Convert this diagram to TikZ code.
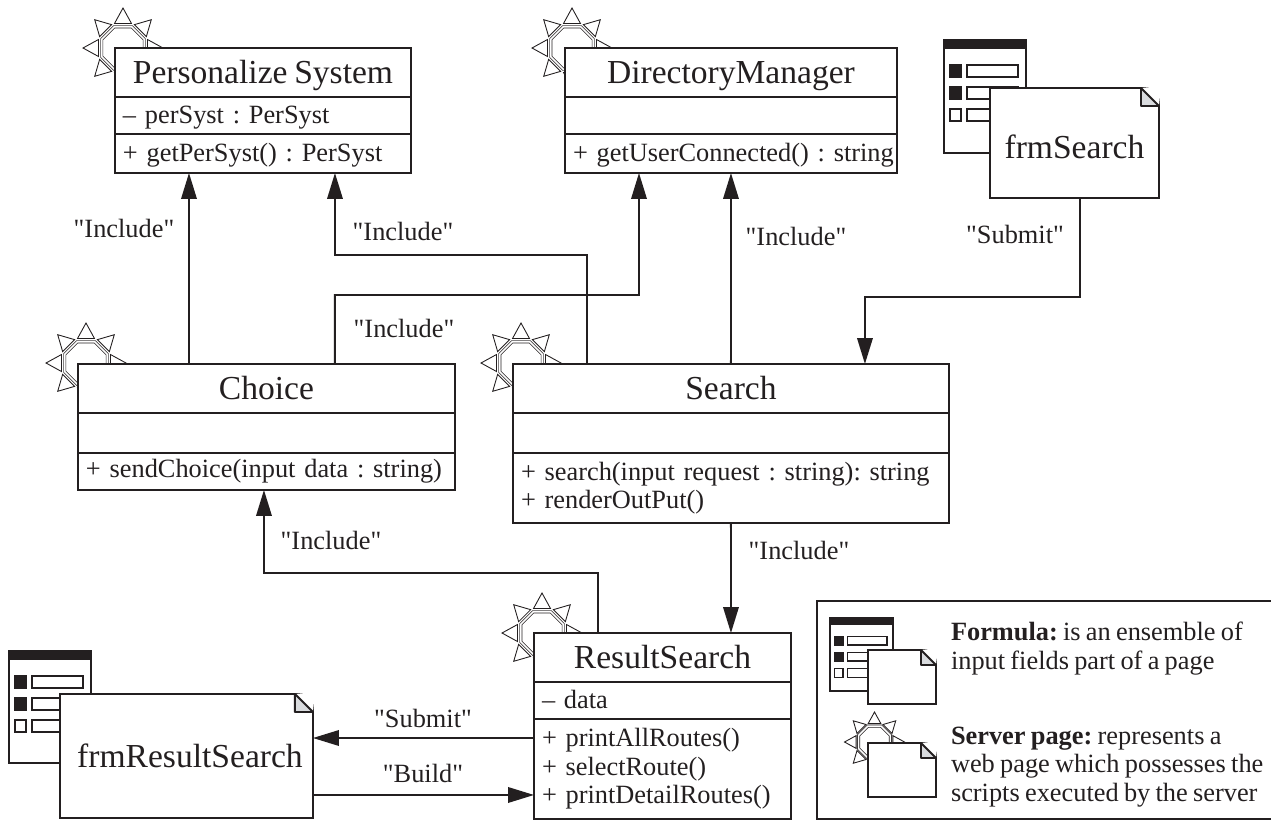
\documentclass[tikz,border=0pt]{standalone}
\usepackage{xcolor}
\usepackage{fontspec}
\setmainfont[Ligatures=TeXOff, WordSpace=0.8]{Liberation Serif}
\usepackage{tikz}
\usetikzlibrary{positioning, arrows.meta}

\definecolor{inkC}{RGB}{35,31,32}
\definecolor{foldC}{RGB}{217,219,222}

\newcommand{\bigtext}{\fontsize{19.1}{22}\selectfont}
\newcommand{\smalltext}{\fontsize{15}{16.2}\selectfont\frenchspacing}

\begin{document}
\begin{tikzpicture}[
    x=0.02cm, y=-0.02cm,
    every node/.style={text=inkC, outer sep=0pt},
    classhead/.style={fill=white, anchor=north west, font=\bigtext, text height=0.45cm, text depth=0pt,
                      minimum width=#1, minimum height=0.98cm, inner sep=0pt},
    classbody/.style={fill=white, font=\smalltext, align=left,
                      text width=#1-0.32cm, inner xsep=0.16cm, inner ysep=0pt},
    oneline/.style={text depth=1pt},
    classline/.style={draw=inkC, line width=1.1pt},
    divider/.style={draw=inkC, line width=0.6pt},
    notebox/.style={draw=inkC, line width=1.1pt, fill=white, anchor=north west, font=\bigtext, inner sep=0pt},
    tag/.style={font=\smalltext},
    legendtext/.style={font=\smalltext, align=left, anchor=north west, inner sep=0pt},
    link/.style={draw=inkC, line width=1.1pt, -{Triangle[length=0.52cm, width=0.31cm]}},
    sunmark/.pic={
      \draw[inkC, double=white, double distance=0.9pt, line width=0.4pt]
        (22.5:23) \foreach \a in {67.5,112.5,...,337.5} {-- (\a:23)} -- cycle;
      \foreach \a in {0,45,...,315} {
        \draw[inkC, fill=white, rotate=\a, line width=0.5pt] (-8.5,-24.5) -- (0,-40) -- (8.5,-24.5) -- cycle;
      }
    },
    formicon/.pic={
      \draw[inkC, line width=1.1pt, fill=white] (0,0) rectangle (82,#1);
      \fill[inkC] (0,0) rectangle (82,9);
      \foreach \y/\c in {25/inkC, 47/inkC, 69/white} {
        \draw[inkC, fill=\c, line width=0.7pt] (6,\y) rectangle ++(11,12);
        \draw[inkC, fill=white, line width=0.7pt] (23,\y) rectangle ++(51,12);
      }
    },
]
\useasboundingbox (0,0) rectangle (1271,819);

% Server page marks, behind the boxes
\foreach \x/\y in {123/48, 572/48, 86/363, 521/363, 542/633} {
  \pic at (\x,\y) {sunmark};
}

% Classes
\node[classhead=5.92cm] (persHead) at (115,48) {Personalize System};
\node[classbody=5.92cm, oneline, minimum height=0.74cm, below=0pt of persHead] (persAttr) {– perSyst : PerSyst};
\node[classbody=5.92cm, oneline, minimum height=0.78cm, below=0pt of persAttr] (persOps) {+ getPerSyst() : PerSyst};

\node[classhead=6.64cm] (dirHead) at (565,48) {DirectoryManager};
\node[classbody=6.64cm, minimum height=0.74cm, below=0pt of dirHead] (dirAttr) {};
\node[classbody=6.64cm, oneline, minimum height=0.78cm, below=0pt of dirAttr] (dirOps) {\mbox{+ getUserConnected() : string}};

\node[classhead=7.54cm] (choiceHead) at (78,364) {Choice};
\node[classbody=7.54cm, minimum height=0.8cm, below=0pt of choiceHead] (choiceAttr) {};
\node[classbody=7.54cm, minimum height=0.74cm, below=0pt of choiceAttr] (choiceOps) {+ sendChoice(input data : string)};

\node[classhead=8.72cm] (searchHead) at (513,364) {Search};
\node[classbody=8.72cm, minimum height=0.8cm, below=0pt of searchHead] (searchAttr) {};
\node[classbody=8.72cm, minimum height=1.4cm, below=0pt of searchAttr] (searchOps)
  {+ search(input request : string): string\\+ renderOutPut()};

\node[classhead=5.14cm] (resultHead) at (534,633) {ResultSearch};
\node[classbody=5.14cm, oneline, minimum height=0.74cm, below=0pt of resultHead] (resultAttr) {– data};
\node[classbody=5.14cm, minimum height=2cm, below=0pt of resultAttr] (resultOps)
  {+ printAllRoutes()\\+ selectRoute()\\+ printDetailRoutes()};

\foreach \c in {pers, dir, choice, search, result} {
  \draw[divider] (\c Attr.south west) -- (\c Attr.south east);
  \draw[classline] (\c Head.south west) -- (\c Head.south east);
  \draw[classline] (\c Head.north west) rectangle (\c Ops.south east);
}

% Formulas
\pic at (944,40) {formicon=113};
\node[notebox, minimum width=3.38cm, minimum height=2.2cm, text height=18pt] (frmSearch) at (990,88) {frmSearch};

\pic at (9,651) {formicon=112};
\node[notebox, minimum width=5.06cm, minimum height=2.48cm] (frmResult) at (60,694) {\hspace*{4pt}frmResultSearch};

% Legend
\node[draw=inkC, line width=1.1pt, anchor=north west, minimum width=9.12cm, minimum height=4.36cm] (legend) at (817,601) {};
\pic[xscale=0.77, yscale=0.73] at (830,618) {formicon=100};
\node[notebox, minimum width=1.36cm, minimum height=1.08cm] (legendForm) at (868,650) {};
\pic[scale=0.75] at (874.5,742) {sunmark};
\node[notebox, minimum width=1.36cm, minimum height=1.08cm] (legendPage) at (868,743) {};
\node[legendtext] (legendFormText) at (951,622) {\textbf{Formula:} is an ensemble of\\input fields part of a page};
\node[legendtext] (legendPageText) at (951,727) {\textbf{Server page:} represents a\\web page which possesses the\\scripts executed by the server};

% Folded corners
\foreach \n/\s in {frmSearch/0.36cm, frmResult/0.36cm, legendForm/0.3cm, legendPage/0.3cm} {
  \fill[white] ([xshift=-\s]\n.north east) -- ([xshift=0.04cm, yshift=0.04cm]\n.north east) -- ([yshift=-\s]\n.north east) -- cycle;
  \draw[inkC, line width=1.1pt, fill=foldC, line join=round] ([xshift=-\s]\n.north east) -- ([yshift=-\s]\n.north east) -- ([xshift=-\s, yshift=-\s]\n.north east) -- cycle;
}

% Bends
\coordinate (bendPers) at (335,255);
\coordinate (bendDir) at (639,295);
\coordinate (bendFrm) at (865,297);
\coordinate (bendResult) at (264,573);

% Arrows
\draw[link] ([xshift=-1.55cm]choiceHead.north) -- ([xshift=-1.48cm]persOps.south);
\draw[link] ([xshift=1.48cm]searchHead.north west) |- (bendPers) -- ([xshift=1.44cm]persOps.south);
\draw[link] ([xshift=1.37cm]choiceHead.north) |- (bendDir) -- ([xshift=-1.84cm]dirOps.south);
\draw[link] (searchHead.north) -- (dirOps.south);
\draw[link] ([xshift=0.11cm]frmSearch.south) |- (bendFrm) -- ([xshift=7.04cm]searchHead.north west);
\draw[link] (searchOps.south) -- ([xshift=1.37cm]resultHead.north);
\draw[link] ([xshift=1.28cm]resultHead.north west) |- (bendResult) -- ([xshift=-0.05cm]choiceOps.south);
\draw[link] ([yshift=-0.38cm]resultOps.north west) -- ([yshift=-0.88cm]frmResult.north east);
\draw[link] ([yshift=-2.02cm]frmResult.north east) -- ([yshift=-1.52cm]resultOps.north west);

% Labels
\node[tag] (tagA) at (124,228) {"Include"};
\node[tag] (tagB) at (403,231) {"Include"};
\node[tag] (tagC) at (404,328) {"Include"};
\node[tag] (tagD) at (796,236) {"Include"};
\node[tag] (tagE) at (1015,234) {"Submit"};
\node[tag] (tagF) at (331,540) {"Include"};
\node[tag] (tagG) at (799,550) {"Include"};
\node[tag] (tagH) at (423,718) {"Submit"};
\node[tag] (tagI) at (423,773) {"Build"};
\end{tikzpicture}
\end{document}
